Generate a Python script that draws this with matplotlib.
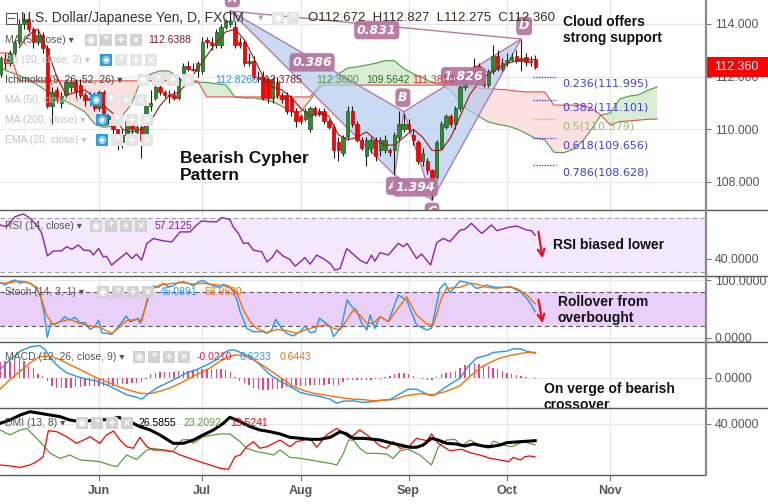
import numpy as np
import matplotlib
matplotlib.use("Agg")
import matplotlib.pyplot as plt
import matplotlib.transforms as mtrans
from matplotlib.patches import Rectangle, Polygon

plt.rcParams['font.family'] = ['Liberation Sans', 'DejaVu Sans']

# ---------------- data ----------------
month_labels = ['Jun', 'Jul', 'Aug', 'Sep', 'Oct', 'Nov']
month_idx = [23, 45, 66, 89, 110, 132]

bar_idx = list(range(2, 117))
opens = [112.1, 112.7, 112.5, 112.9, 113.3, 114.0, 114.2, 113.8, 113.3, 113.6,
         113.1, 110.9, 111.5, 111.0, 111.3, 111.6, 111.8, 111.7, 111.3, 111.1,
         111.2, 110.8, 111.4, 110.4, 110.5, 110.0, 109.5, 109.8, 110.3, 109.9,
         110.1, 109.6, 110.9, 111.2, 111.6, 111.4, 111.3, 111.3, 111.2, 111.9,
         112.4, 112.3, 112.2, 112.2, 113.4, 113.3, 113.2, 113.2, 113.9, 114.0,
         113.9, 113.3, 113.3, 112.5, 112.6, 112.0, 112.0, 111.9, 111.2, 111.8,
         111.3, 111.3, 111.2, 110.7, 110.5, 110.4, 110.0, 110.8, 110.7, 110.7,
         110.3, 110.1, 109.5, 109.1, 109.7, 110.7, 110.2, 109.6, 109.0, 109.3,
         109.6, 109.2, 109.2, 109.2, 109.2, 109.7, 110.0, 110.2, 109.8, 109.5,
         108.8, 108.8, 108.45, 108.2, 109.3, 110.1, 110.5, 110.2, 110.8, 111.6,
         111.95, 112.4, 112.4, 112.2, 111.7, 112.2, 112.8, 112.3, 112.55, 112.65,
         112.8, 112.6, 112.75, 112.55, 112.672]
highs = [112.8, 112.9, 113.0, 113.4, 114.2, 114.4, 114.3, 113.9, 113.8, 113.7,
         113.2, 111.6, 111.6, 111.4, 111.9, 112.0, 111.9, 111.9, 111.4, 111.4,
         111.4, 111.5, 111.5, 110.6, 110.6, 110.0, 110.0, 110.4, 110.4, 110.2,
         110.3, 111.0, 111.5, 111.7, 111.8, 111.5, 111.5, 111.5, 112.0, 112.5,
         112.6, 112.5, 112.6, 113.5, 113.5, 113.5, 113.8, 114.0, 114.2, 114.5,
         114.1, 113.5, 113.4, 112.9, 112.8, 112.2, 112.2, 112.0, 112.0, 112.0,
         111.4, 111.4, 111.3, 110.8, 110.6, 110.8, 110.9, 110.9, 110.8, 110.8,
         110.4, 110.2, 109.7, 109.8, 110.9, 110.9, 110.3, 109.7, 109.7, 109.7,
         109.7, 109.7, 109.8, 109.3, 109.9, 110.7, 110.6, 110.4, 110.0, 109.6,
         109.3, 108.9, 108.5, 109.6, 110.3, 110.6, 110.6, 110.9, 111.7, 112.1,
         112.3, 112.7, 112.5, 112.3, 112.3, 113.2, 113.0, 112.7, 112.9, 112.9,
         113.0, 113.4, 112.9, 112.8, 112.827]
lows = [112.0, 112.3, 112.4, 112.8, 113.2, 113.8, 113.7, 113.1, 113.2, 112.9,
        110.8, 110.2, 111.0, 110.8, 111.2, 111.4, 111.2, 111.2, 110.9, 110.9,
        110.7, 110.7, 110.3, 110.2, 109.8, 109.2, 109.3, 109.7, 109.8, 109.6,
        108.9, 109.5, 110.7, 111.1, 111.3, 111.2, 111.0, 111.1, 111.1, 111.8,
        112.2, 112.2, 112.0, 112.1, 113.1, 113.0, 113.1, 113.1, 113.8, 113.9,
        113.1, 113.1, 112.4, 112.4, 111.9, 111.8, 111.1, 111.0, 111.0, 111.2,
        111.0, 110.6, 110.5, 110.1, 110.2, 110.3, 109.9, 110.5, 110.5, 110.2,
        110.0, 108.9, 108.8, 109.0, 109.6, 110.1, 109.5, 109.2, 108.6, 109.1,
        108.8, 109.0, 109.1, 109.0, 108.3, 109.6, 109.9, 109.9, 109.4, 108.7,
        108.6, 108.3, 107.3, 108.1, 109.2, 110.0, 110.1, 110.0, 110.7, 111.5,
        111.9, 111.9, 112.1, 111.6, 111.6, 112.1, 112.2, 112.2, 112.4, 112.6,
        112.5, 112.2, 112.4, 112.4, 112.275]
closes = [112.7, 112.5, 112.9, 113.3, 114.0, 114.2, 113.8, 113.3, 113.6, 113.1,
          110.9, 111.4, 111.1, 111.25, 111.8, 111.8, 111.4, 111.3, 111.1, 111.2,
          110.8, 111.4, 110.4, 110.5, 110.0, 109.4, 109.8, 110.3, 110.0, 110.1,
          109.6, 110.9, 111.0, 111.6, 111.4, 111.3, 111.25, 111.2, 111.9, 112.4,
          112.3, 112.25, 112.5, 113.3, 113.3, 113.2, 113.7, 113.9, 114.1, 114.1,
          113.2, 113.2, 112.5, 112.6, 112.0, 111.9, 111.2, 111.2, 111.9, 111.3,
          111.15, 110.7, 110.7, 110.3, 110.3, 110.7, 110.8, 110.6, 110.6, 110.3,
          110.1, 109.2, 109.2, 109.7, 110.7, 110.2, 109.6, 109.3, 109.6, 109.6,
          109.0, 109.6, 109.6, 109.15, 109.8, 110.2, 110.2, 110.0, 109.6, 108.8,
          109.1, 108.45, 107.9, 109.5, 110.2, 110.5, 110.2, 110.8, 111.6, 112.0,
          112.25, 112.0, 112.15, 111.7, 112.2, 112.8, 112.3, 112.5, 112.65, 112.75,
          112.6, 112.7, 112.55, 112.6, 112.36]

ma5_x = list(range(6, 117, 2))
ma5_v = [113.1, 113.6, 113.8, 113.0, 112.0, 111.3, 111.4, 111.5, 111.2, 110.9,
         110.6, 110.0, 109.9, 110.0, 110.3, 110.9, 111.3, 111.4, 111.8, 112.3,
         112.8, 113.3, 113.7, 113.8, 113.4, 112.7, 112.0, 111.6, 111.5, 111.2,
         110.8, 110.5, 110.6, 110.5, 109.8, 109.6, 109.7, 109.9, 109.6, 109.4,
         109.4, 109.7, 110.0, 109.7, 109.2, 109.2, 109.7, 110.5, 111.3, 111.8,
         112.1, 112.3, 112.5, 112.6, 112.65, 112.64]

cloud_x = list(range(2, 143, 2))
span_a = [112.33, 112.17, 112.05, 111.89, 111.67, 111.44, 111.24, 111.06, 110.87, 110.66,
          110.22, 110.07, 110.13, 110.52, 110.98, 111.90, 112.10, 112.22, 112.21, 111.93,
          111.76, 111.79, 111.78, 111.73, 111.69, 111.22, 111.19, 111.19, 111.13, 111.05,
          110.88, 110.65, 110.66, 111.11, 111.58, 111.87, 112.10, 112.33, 112.37, 112.44,
          112.51, 112.61, 112.60, 112.30, 112.11, 111.96, 111.78, 111.71, 111.47, 111.00,
          110.70, 110.49, 110.28, 110.19, 110.13, 110.02, 109.85, 109.66, 109.61, 109.13,
          109.11, 109.23, 109.53, 110.00, 110.54, 110.62, 111.15, 111.26, 111.31, 111.48,
          111.61]
span_b = [112.90, 112.90, 111.84, 111.84, 111.84, 111.84, 111.84, 111.84, 111.84, 111.84,
          111.84, 111.84, 111.84, 111.84, 111.84, 111.84, 111.84, 111.84, 111.84, 111.84,
          111.84, 111.84, 111.23, 111.23, 111.23, 111.23, 111.23, 111.23, 111.23, 111.23,
          111.23, 111.23, 111.23, 111.23, 111.68, 111.68, 111.68, 111.68, 111.68, 111.68,
          111.68, 111.68, 111.68, 111.68, 111.68, 111.68, 111.68, 111.68, 111.67, 111.63,
          111.60, 111.57, 111.55, 111.52, 111.50, 111.45, 111.42, 111.42, 111.42, 110.92,
          110.92, 110.92, 110.92, 110.80, 110.54, 110.16, 110.29, 110.32, 110.35, 110.38,
          110.39]

# Cypher pattern points X, A, B, C, D
pat_names = ['X', 'A', 'B', 'C', 'D']
pat_x = [51, 86, 88, 94, 113]
pat_p = [114.49, 108.27, 110.67, 107.32, 113.43]
pat_ratios = {'XB': '0.386', 'AC': '1.394', 'BD': '1.826', 'XD': '0.831'}

fib_ratio = ['0.236', '0.382', '0.5', '0.618', '0.786']
fib_price = [111.995, 111.101, 110.379, 109.656, 108.628]

rsi_x = [1.9, 3.3, 5.1, 6.9, 8.3, 9.7, 10.8, 12.0, 13.3, 15.0, 16.1, 17.2, 18.6, 19.7, 21.1, 21.8, 22.9, 23.9, 24.6, 25.7,
         27.1, 28.9, 30.0, 31.0, 32.1, 33.2, 34.6, 36.7, 38.5, 40.3, 42.4, 43.8, 44.9, 46.7, 48.1, 49.2, 50.9, 51.6, 52.7, 53.8,
         54.8, 55.9, 57.7, 58.8, 59.9, 60.9, 62.3, 63.7, 64.8, 65.9, 66.9, 68.0, 69.4, 70.8, 72.3, 73.3, 74.4, 75.8, 77.2, 78.6,
         80.1, 81.1, 81.8, 82.9, 84.7, 86.8, 87.9, 88.7, 90.7, 91.8, 93.7, 95.0, 96.4, 97.8, 100.0, 101.0, 102.4, 104.6, 106.7, 107.8,
         110.3, 112.0, 114.2, 115.2, 116.0]
rsi_v = [64.8, 63.6, 71.0, 73.0, 69.8, 64.8, 58.6, 41.9, 45.6, 45.6, 48.8, 46.8, 50.0, 46.3, 45.8, 42.6, 47.4, 41.2, 41.7, 35.1,
         39.3, 44.2, 40.0, 43.2, 38.8, 51.1, 54.8, 53.1, 52.3, 59.7, 59.7, 64.7, 67.9, 67.2, 67.2, 70.4, 68.9, 63.5, 58.6, 51.1,
         51.6, 46.2, 45.0, 37.5, 40.7, 46.2, 41.7, 39.3, 34.3, 37.5, 40.7, 35.8, 42.5, 40.0, 36.3, 31.4, 32.6, 47.4, 43.2, 38.8,
         36.3, 42.5, 38.0, 44.3, 42.6, 51.2, 48.8, 51.2, 40.1, 43.3, 35.2, 51.7, 54.9, 52.5, 61.1, 61.6, 66.0, 58.6, 64.8, 60.6,
         63.1, 64.1, 61.1, 60.6, 57.2]

stk_x = [1.9, 3.0, 4.0, 5.1, 6.2, 7.2, 8.3, 9.4, 10.5, 11.3, 12.0, 12.7, 13.6, 14.7, 15.7, 16.8, 17.9, 18.9, 20.0, 21.1,
         22.1, 22.9, 23.6, 24.6, 25.7, 26.8, 27.8, 28.8, 29.6, 30.3, 31.4, 31.7, 32.5, 33.5, 34.6, 35.7, 36.7, 37.8, 38.8, 39.9,
         41.0, 42.0, 43.1, 44.2, 45.2, 46.3, 47.4, 48.4, 49.5, 50.6, 51.6, 52.4, 53.1, 54.5, 55.9, 58.0, 58.8, 59.8, 60.7, 61.9,
         63.0, 64.4, 65.9, 66.9, 68.0, 69.1, 70.0, 71.2, 72.3, 73.0, 73.7, 74.7, 75.9, 76.9, 77.9, 79.0, 80.1, 80.8, 81.8, 82.9,
         84.7, 86.8, 88.6, 90.7, 92.9, 93.9, 95.7, 96.8, 97.8, 100.0, 102.1, 103.5, 104.6, 105.6, 107.4, 109.2, 111.0, 112.8, 114.2, 115.2,
         116.0]
stk_v = [95.4, 91.4, 97.1, 100, 94.3, 97.1, 94.3, 87.4, 74.1, 42.5, 1.1, 25.3, 24.1, 28.2, 36.8, 31.0, 35.6, 26.4, 26.4, 14.9,
         19.5, 31.0, 9.2, 8.0, 6.3, 16.7, 26.4, 37.9, 28.2, 29.9, 33.9, 25.3, 42.5, 68.4, 89.7, 87.4, 94.3, 88.5, 89.7, 96.0,
         97.1, 94.3, 89.7, 97.1, 98.9, 94.3, 89.7, 87.4, 92.5, 89.7, 79.9, 65.5, 45.4, 16.7, 10.9, 10.9, 8.0, 13.8, 32.2, 16.7,
         8.0, 3.4, 10.9, 20.7, 9.2, 10.9, 33.9, 26.4, 19.5, 2.3, 9.2, 20.7, 65.5, 54.0, 48.3, 25.3, 13.8, 39.7, 16.7, 36.8,
         28.2, 74.1, 65.5, 22.4, 13.8, 16.7, 85.6, 94.3, 78.2, 98.3, 94.3, 85.6, 87.4, 91.4, 87.4, 87.4, 87.4, 79.9, 68.4, 56.9,
         45.1]
std_x = [1.9, 4.0, 6.2, 8.3, 9.7, 10.8, 11.8, 13.3, 14.7, 16.8, 18.9, 21.1, 23.2, 25.7, 27.5, 28.9, 31.0, 32.1, 33.2, 34.6,
         36.0, 38.8, 41.0, 43.1, 45.2, 48.1, 50.9, 52.4, 53.8, 55.2, 56.6, 58.8, 60.9, 63.0, 65.1, 67.3, 69.4, 71.5, 73.0, 74.4,
         75.8, 77.2, 78.6, 80.1, 81.5, 82.9, 84.7, 86.5, 88.6, 90.7, 92.9, 94.3, 96.0, 97.1, 100.0, 102.1, 103.5, 105.6, 107.8, 110.6,
         112.4, 114.2, 116.0]
std_v = [94.3, 95.4, 98.3, 94.3, 87.4, 65.5, 39.7, 22.4, 28.2, 32.2, 25.3, 20.7, 18.4, 8.0, 19.5, 29.9, 32.2, 28.2, 65.5, 85.6,
         91.4, 94.3, 95.4, 93.1, 94.3, 91.4, 88.5, 77.0, 48.3, 28.2, 16.7, 9.2, 14.9, 12.6, 8.0, 14.9, 19.5, 22.4, 16.7, 13.8,
         31.0, 48.3, 39.7, 25.3, 25.3, 36.8, 28.2, 48.3, 71.3, 39.7, 24.1, 22.4, 68.4, 85.6, 87.4, 94.3, 93.1, 87.4, 85.6, 88.5,
         83.9, 74.1, 59.0]

macd_x = [1.9, 4.0, 6.2, 8.3, 10.4, 11.5, 12.6, 14.3, 16.1, 18.2, 20.4, 22.5, 24.6, 26.8, 28.9, 31.0, 32.1, 33.2, 35.3, 37.4,
          39.6, 41.7, 43.8, 46.0, 48.1, 50.2, 51.6, 53.1, 55.2, 57.3, 59.5, 61.6, 63.7, 65.9, 68.0, 70.1, 72.3, 73.7, 75.1, 77.2,
          79.4, 81.5, 82.9, 85.0, 88.9, 90.7, 93.6, 94.6, 97.1, 100.0, 101.7, 103.5, 105.6, 107.1, 109.9, 111.3, 112.8, 114.2, 116.0]
macd_v = [0.21, 0.46, 0.67, 0.78, 0.81, 0.71, 0.50, 0.29, 0.13, 0.04, -0.03, -0.08, -0.17, -0.29, -0.42, -0.48, -0.53, -0.42, -0.25, -0.13,
          0.0, 0.13, 0.21, 0.33, 0.46, 0.67, 0.71, 0.64, 0.54, 0.33, 0.08, -0.08, -0.21, -0.36, -0.42, -0.46, -0.53, -0.63, -0.58, -0.57,
          -0.61, -0.59, -0.56, -0.54, -0.28, -0.28, -0.44, -0.42, -0.21, 0.0, 0.29, 0.50, 0.56, 0.64, 0.67, 0.73, 0.73, 0.67, 0.62]
sig_x = [1.9, 4.0, 6.2, 8.3, 10.4, 12.6, 14.7, 16.8, 19.0, 21.1, 23.2, 25.3, 27.5, 29.6, 31.7, 33.9, 36.0, 38.1, 40.3, 42.4,
         44.5, 46.7, 48.8, 50.9, 52.4, 53.8, 55.9, 58.0, 60.2, 62.3, 64.4, 66.6, 68.7, 70.8, 73.0, 75.1, 77.2, 79.4, 81.5, 82.9,
         85.7, 88.6, 91.4, 94.3, 97.1, 100.0, 102.1, 104.2, 106.4, 108.5, 110.6, 112.8, 114.2, 116.0]
sig_v = [-0.28, -0.04, 0.17, 0.38, 0.54, 0.54, 0.46, 0.33, 0.21, 0.08, -0.03, -0.13, -0.23, -0.31, -0.38, -0.39, -0.33, -0.25, -0.13, 0.0,
         0.13, 0.25, 0.42, 0.54, 0.58, 0.56, 0.46, 0.31, 0.13, -0.04, -0.21, -0.31, -0.38, -0.42, -0.46, -0.50, -0.53, -0.54, -0.57, -0.56,
         -0.54, -0.44, -0.39, -0.42, -0.33, -0.19, 0.04, 0.25, 0.39, 0.50, 0.56, 0.61, 0.64, 0.64]
hist_v = [0.40, 0.42, 0.42, 0.45, 0.46, 0.42, 0.30, 0.25, 0.10, 0.05,
          -0.08, -0.20, -0.25, -0.26, -0.25, -0.24, -0.22, -0.22, -0.21, -0.21,
          -0.20, -0.20, -0.20, -0.20, -0.19, -0.18, -0.16, -0.15, -0.13, -0.12,
          -0.10, -0.02, 0.10, 0.13, 0.14, 0.14, 0.16, 0.16, 0.17, 0.17,
          0.18, 0.20, 0.22, 0.22, 0.22, 0.23, 0.22, 0.22, 0.20, 0.15,
          0.02, -0.08, -0.13, -0.18, -0.24, -0.28, -0.30, -0.30, -0.28, -0.27,
          -0.24, -0.22, -0.22, -0.20, -0.20, -0.20, -0.18, -0.18, -0.17, -0.17,
          -0.16, -0.17, -0.17, -0.10, -0.05, -0.04, -0.04, -0.05, -0.05, -0.04,
          -0.03, -0.02, 0.02, 0.06, 0.10, 0.12, 0.12, 0.10, 0.06, 0.01,
          -0.02, -0.05, -0.04, 0.02, 0.10, 0.13, 0.15, 0.17, 0.25, 0.33,
          0.36, 0.38, 0.36, 0.33, 0.30, 0.26, 0.22, 0.17, 0.13, 0.10,
          0.08, 0.05, 0.03, 0.01, -0.02]

adx_x = [1.9, 4.0, 6.2, 8.3, 10.4, 12.6, 14.7, 16.8, 19.0, 21.1, 23.2, 25.3, 27.1, 28.9, 30.3, 31.7, 33.9, 36.0, 38.8, 41.0,
         43.1, 45.2, 47.4, 49.5, 50.9, 53.1, 55.2, 57.3, 59.5, 61.6, 63.7, 65.9, 68.0, 70.1, 72.3, 74.4, 75.8, 77.2, 79.4, 81.5,
         82.9, 85.0, 87.2, 89.3, 90.7, 92.1, 93.9, 95.3, 97.1, 99.2, 101.0, 102.8, 104.9, 106.4, 108.5, 109.9, 112.8, 116.0]
adx_v = [40.5, 43.2, 47.2, 49.9, 48.6, 47.2, 45.9, 43.2, 41.9, 42.7, 43.7, 43.2, 45.4, 43.2, 40.5, 37.9, 35.2, 31.2, 24.5, 24.5,
         27.1, 31.2, 35.2, 40.5, 45.4, 41.9, 37.9, 35.2, 33.8, 32.0, 29.3, 28.5, 27.7, 27.7, 29.3, 33.8, 32.0, 28.5, 28.5, 27.7,
         27.1, 25.0, 23.1, 21.3, 21.3, 23.1, 28.5, 27.1, 24.5, 23.9, 22.3, 23.9, 22.3, 21.8, 23.1, 25.0, 25.8, 26.6]
pdi_x = [1.9, 4.0, 6.2, 7.6, 9.0, 11.1, 12.6, 14.7, 16.8, 19.0, 21.1, 23.2, 25.3, 26.8, 28.9, 31.0, 33.2, 34.6, 36.7, 38.8,
         40.6, 42.0, 43.1, 45.2, 47.4, 48.8, 50.9, 53.1, 54.5, 56.6, 58.8, 60.2, 61.6, 63.7, 65.9, 68.0, 70.1, 72.3, 73.7, 75.1,
         76.2, 77.2, 78.6, 80.1, 82.2, 84.3, 85.7, 87.2, 88.9, 91.4, 93.9, 95.3, 97.1, 98.9, 100.3, 102.1, 104.2, 106.0, 107.1, 109.2,
         111.0, 113.5, 116.0]
pdi_v = [35.2, 31.2, 35.2, 36.5, 31.2, 23.1, 16.4, 12.4, 15.1, 11.1, 10.5, 9.7, 7.1, 5.7, 15.1, 11.6, 19.1, 20.5, 19.1, 17.8,
         27.1, 27.7, 24.5, 29.8, 31.2, 32.0, 32.0, 25.8, 20.5, 17.8, 16.4, 15.1, 19.1, 13.2, 12.4, 11.1, 9.7, 8.4, 7.1, 16.4,
         27.1, 27.1, 20.5, 16.4, 16.4, 15.9, 12.4, 18.6, 19.7, 15.1, 7.1, 21.3, 27.1, 27.7, 22.3, 27.1, 23.1, 20.5, 26.3, 23.1,
         21.8, 25.8, 23.2]
mdi_x = [1.9, 4.0, 6.2, 8.3, 9.7, 11.1, 12.2, 14.0, 16.1, 18.2, 19.7, 21.1, 23.2, 24.6, 26.1, 27.5, 28.9, 30.3, 31.7, 33.2,
         34.6, 36.7, 38.8, 40.3, 42.4, 44.5, 46.7, 48.8, 50.6, 52.0, 53.1, 54.5, 55.9, 57.3, 58.8, 60.2, 61.6, 63.7, 65.1, 66.6,
         68.0, 69.4, 71.5, 73.7, 75.1, 76.5, 78.6, 80.1, 81.5, 82.9, 84.3, 85.7, 87.2, 88.9, 90.7, 92.9, 93.9, 95.3, 97.8, 100.3,
         102.1, 104.2, 106.4, 108.5, 110.3, 111.3, 112.8, 113.8, 114.9, 116.0]
mdi_v = [7.1, 6.3, 5.2, 7.1, 9.7, 13.8, 34.6, 33.8, 29.8, 24.5, 27.1, 29.8, 24.5, 31.2, 34.4, 27.1, 21.8, 20.5, 29.3, 21.8,
         19.1, 19.1, 17.8, 15.1, 12.4, 9.7, 7.1, 4.4, 3.6, 13.8, 15.1, 21.8, 25.8, 20.5, 21.8, 24.5, 27.1, 21.8, 25.8, 27.1,
         28.5, 21.3, 31.2, 36.5, 32.5, 28.5, 35.2, 31.2, 27.1, 22.3, 20.5, 25.8, 20.5, 21.3, 28.5, 26.6, 32.0, 24.5, 18.6, 19.7,
         17.0, 15.1, 12.4, 11.1, 9.7, 13.2, 11.1, 13.8, 14.3, 13.5]

# ---------------- layout ----------------
W, H = 768, 504
fig = plt.figure(figsize=(7.68, 5.04), dpi=100)
XR = 705


def axes_px(top, bottom):
    return fig.add_axes([0, 1 - bottom / H, XR / W, (bottom - top) / H])


ax_main = axes_px(0, 210)
ax_rsi = axes_px(210, 276)
ax_sto = axes_px(276, 342)
ax_macd = axes_px(342, 408)
ax_dmi = axes_px(408, 475)

GRID = '#e6e6e6'


def style(ax, ylim, yticks, ylabels):
    ax.set_xlim(1.892, 152.2)
    ax.set_ylim(*ylim)
    for s in ax.spines.values():
        s.set_visible(False)
    ax.yaxis.tick_right()
    ax.set_yticks(yticks)
    ax.set_yticklabels(ylabels)
    ax.tick_params(axis='y', length=4, width=0.8, color='#777777', labelcolor='#555555',
                   labelsize=8.8, pad=3)
    ax.set_xticks(month_idx)
    ax.tick_params(axis='x', length=0, labelbottom=False)
    for m in month_idx:
        ax.axvline(m, color=GRID, lw=0.8, zorder=0)
    for t in yticks:
        ax.axhline(t, color=GRID, lw=0.8, zorder=0)


style(ax_main, (106.936, 114.911), [108, 110, 112, 114], ['108.000', '110.000', '112.000', '114.000'])
style(ax_rsi, (27.04, 75.93), [40], ['40.0000'])
style(ax_sto, (-6.9, 106.9), [0, 100], ['0.0000', '100.0000'])
style(ax_macd, (-0.75, 0.9), [0], ['0.0000'])
style(ax_dmi, (-0.96, 52.85), [40], ['40.0000'])
ax_dmi.set_xticklabels(month_labels)
ax_dmi.tick_params(axis='x', length=4, width=0.8, color='#777777', labelbottom=True,
                   labelsize=9, labelcolor='#555555', pad=3)
for lb in ax_dmi.get_xticklabels():
    lb.set_fontweight('bold')

# ---------------- main panel ----------------
sa = np.array(span_a)
sb = np.array(span_b)
ax_main.fill_between(cloud_x, sa, sb, where=sa >= sb, interpolate=True, color='#d9edd5', lw=0, zorder=0.6)
ax_main.fill_between(cloud_x, sa, sb, where=sa < sb, interpolate=True, color='#fde0e0', lw=0, zorder=0.6)
ax_main.plot(cloud_x, span_a, color='#4f9a43', lw=0.8, zorder=1)
ax_main.plot(cloud_x, span_b, color='#ef4a4a', lw=0.8, zorder=1)

# pattern
PC = '#b57aa3'
tri1 = Polygon(list(zip(pat_x[0:3], pat_p[0:3])), closed=True, fc='#b3cbef', alpha=0.7, ec='none', zorder=2)
tri2 = Polygon(list(zip(pat_x[2:5], pat_p[2:5])), closed=True, fc='#b3cbef', alpha=0.7, ec='none', zorder=2)
ax_main.add_patch(tri1)
ax_main.add_patch(tri2)
for a, b in [(0, 1), (1, 2), (2, 0), (2, 3), (3, 4), (4, 2), (1, 3), (0, 4)]:
    ax_main.plot([pat_x[a], pat_x[b]], [pat_p[a], pat_p[b]], color=PC, lw=1.0, zorder=2.2)

# candles
o = np.array(opens); c = np.array(closes); hi = np.array(highs); lo = np.array(lows)
up = c >= o
ax_main.vlines(bar_idx, lo, hi, color='#1a1a1a', lw=0.8, zorder=3)
ax_main.bar(np.array(bar_idx)[up], np.maximum(np.abs(c - o), 0.03)[up], bottom=np.minimum(o, c)[up],
            width=0.72, color='#2f8a2f', edgecolor='#1d5a1d', lw=0.5, zorder=4)
ax_main.bar(np.array(bar_idx)[~up], np.maximum(np.abs(c - o), 0.03)[~up], bottom=np.minimum(o, c)[~up],
            width=0.72, color='#ff0000', edgecolor='#d00000', lw=0.5, zorder=4)

ax_main.plot(ma5_x, ma5_v, color='#a31515', lw=0.8, zorder=5)

# pattern labels
lab_kw = dict(textcoords='offset pixels', ha='center', va='center', fontsize=9, fontweight='bold',
              fontstyle='italic', color='white', zorder=7, clip_on=True, annotation_clip=False,
              family='DejaVu Sans',
              bbox=dict(boxstyle='round,pad=0.22,rounding_size=0.35', fc='#b5739d', ec='none', alpha=0.92))
pt_off = {'X': (2, 13), 'A': (-1, -11), 'B': (-1, 14), 'C': (0, -12), 'D': (3, 13)}
for n, px, pp in zip(pat_names, pat_x, pat_p):
    ax_main.annotate(n, (px, pp), xytext=pt_off[n], **lab_kw)
rat_off = {'XB': (-5, -1), 'AC': (2, 0), 'BD': (1, -1), 'XD': (1, -5)}
for key, s in pat_ratios.items():
    i1, i2 = pat_names.index(key[0]), pat_names.index(key[1])
    mx = (pat_x[i1] + pat_x[i2]) / 2
    my = (pat_p[i1] + pat_p[i2]) / 2
    ax_main.annotate(s, (mx, my), xytext=rat_off[key], **lab_kw)

# fib levels
for r, p in zip(fib_ratio, fib_price):
    col = '#8fbf6f' if r == '0.5' else '#3d3df5'
    ax_main.hlines(p, 115.5, 120.4, colors=col, linestyles=(0, (1, 1)), lw=1.0, zorder=5)
    ax_main.annotate('%s(%.3f)' % (r, p), (121.7, p), xytext=(0, -7), textcoords='offset pixels',
                     ha='left', va='center', fontsize=8, color=col, family='DejaVu Sans', zorder=6)

# last price box on right axis
btr = mtrans.blended_transform_factory(ax_main.transAxes, ax_main.transData)
ax_main.add_patch(Rectangle((1.002, closes[-1] - 0.38), 0.09, 0.76, transform=btr, fc='#ff0000',
                            ec='none', clip_on=False, zorder=20))
ax_main.text(1.045, closes[-1], '%.3f' % closes[-1], transform=btr, ha='center', va='center',
             color='white', fontsize=9, clip_on=False, zorder=21)

# ---------------- RSI ----------------
ax_rsi.axhspan(30, 70, color='#f4e8fc', lw=0, zorder=0.1)
for lv in (30, 70):
    ax_rsi.axhline(lv, color='#a0a0a0', lw=0.8, ls=(0, (4, 3)), zorder=1)
ax_rsi.plot(rsi_x, rsi_v, color='#8e24aa', lw=1.0, zorder=3)

# ---------------- Stoch ----------------
ax_sto.axhspan(20, 80, color='#e9d0f9', lw=0, zorder=0.1)
for lv in (20, 80):
    ax_sto.axhline(lv, color='#555555', lw=0.8, ls=(0, (4, 3)), zorder=1)
ax_sto.plot(stk_x, stk_v, color='#2196f3', lw=1.0, zorder=3)
ax_sto.plot(std_x, std_v, color='#ff6d00', lw=1.0, zorder=3)

# ---------------- MACD ----------------
ax_macd.bar(bar_idx, hist_v, width=0.3, color='#f2417f', zorder=2)
ax_macd.plot(macd_x, macd_v, color='#2196f3', lw=1.0, zorder=3)
ax_macd.plot(sig_x, sig_v, color='#ff6d00', lw=1.0, zorder=3)

# ---------------- DMI ----------------
ax_dmi.plot(pdi_x, pdi_v, color='#5a9e3c', lw=0.9, zorder=3)
ax_dmi.plot(mdi_x, mdi_v, color='#ff0000', lw=0.9, zorder=3)
ax_dmi.plot(adx_x, adx_v, color='#000000', lw=2.2, zorder=4)

# ---------------- overlay (legends, notes, frame) ----------------
ov = fig.add_axes([0, 0, 1, 1], zorder=10)
ov.set_xlim(0, W)
ov.set_ylim(H, 0)
ov.axis('off')
ov.patch.set_visible(False)

for yy in (210, 276, 342, 408):
    ov.plot([0, W], [yy, yy], color='#5a5a5a', lw=1.0)
ov.plot([0, XR], [475, 475], color='#5a5a5a', lw=1.0)
ov.plot([XR + 0.5, XR + 0.5], [0, 475], color='#8a8a8a', lw=1.6)


def icons(x0, y, first_blue=False, faded=False, n=4):
    glyphs = ['\u25c9', '*', '+', '\u00d7']
    for k, g in enumerate(glyphs[:n]):
        fc = '#2e9fdc' if (k == 0 and first_blue) else ('#e4e4e4' if faded else '#d2d2d2')
        ov.add_patch(Rectangle((x0 + 15 * k, y - 6), 12, 12, fc=fc, ec='none'))
        ov.text(x0 + 15 * k + 6, y, g, ha='center', va='center', color='white', fontsize=7,
                fontweight='bold', family='DejaVu Sans')


def txt(x, y, s, color='#555555', size=7.5, **kw):
    ov.text(x, y, s, color=color, fontsize=size, ha='left', va='center', **kw)


# title row
ov.add_patch(Rectangle((5.5, 12.5), 11, 11, fc='none', ec='#555555', lw=0.8))
ov.plot([8, 14], [18, 18], color='#555555', lw=0.8)
txt(21, 18, 'U.S. Dollar/Japanese Yen, D, FXCM', color='#333333', size=10)
txt(258, 18, '\u25be', color='#aaaaaa', size=8)
icons(272, 18, faded=True, n=2)
txt(308, 18, 'O%.3f  H%.3f  L%.3f  C%.3f' % (opens[-1], highs[-1], lows[-1], closes[-1]),
    color='#3d2b1f', size=9.5)

FADE = '#c4c4c4'
txt(5, 40, 'MA (5, close) \u25be')
icons(85, 40)
txt(148, 40, '%.4f' % 112.6388, color='#8b1a1a')
txt(5, 60, 'BB (20, close, 2) \u25be', color=FADE)
icons(100, 60, first_blue=True, faded=True)
txt(5, 80, 'Ichimoku (9, 26, 52, 26) \u25be', color='#444444')
icons(137, 80, faded=True)
ichi_vals = ['112.8260', '112.3785', '112.3600', '109.5642', '111.3810']
ichi_cols = ['#2196f3', '#8b1a1a', '#4f9a43', '#2e6b2e', '#ef2a2a']
ichi_xs = [215, 259, 316, 366, 412]
for v, cc, xx in zip(ichi_vals, ichi_cols, ichi_xs):
    txt(xx, 80, v, color=cc)
txt(5, 100, 'MA (50, close) \u25be', color=FADE)
icons(90, 100, first_blue=True, faded=True)
txt(5, 120, 'MA (200, close) \u25be', color=FADE)
icons(96, 120, first_blue=True, faded=True)
txt(5, 140, 'EMA (20, close) \u25be', color=FADE)
icons(96, 140, first_blue=True, faded=True)

txt(5, 226, 'RSI (14, close) \u25be')
icons(90, 226)
txt(155, 226, '57.2125', color='#7b1fa2')
txt(5, 292, 'Stoch (14, 3, 1) \u25be')
icons(97, 292)
txt(160, 292, '45.0891', color='#2196f3')
txt(205, 292, '58.9630', color='#ff6d00')
txt(5, 357, 'MACD (12, 26, close, 9) \u25be')
icons(133, 357)
txt(197, 357, '-0.0210', color='#ff1744')
txt(240, 357, '0.6233', color='#2196f3')
txt(280, 357, '0.6443', color='#ff6d00')
txt(5, 423, 'DMI (13, 8) \u25be')
icons(76, 423)
txt(138, 423, '26.5855', color='#000000')
txt(183, 423, '23.2092', color='#5a9e3c')
txt(230, 423, '13.5241', color='#ff0000')

# notes
note_kw = dict(color='#111111', fontweight='bold', ha='left', va='top', linespacing=1.15)
ov.text(563, 15, 'Cloud offers\nstrong support', fontsize=10, **note_kw)
ov.text(180, 151, 'Bearish Cypher\nPattern', fontsize=12.5, **note_kw)
ov.text(553, 245, 'RSI biased lower', fontsize=10, color='#111111', fontweight='bold', ha='left', va='center')
ov.text(558, 295, 'Rollover from\noverbought', fontsize=10, **note_kw)
# note clipped by the MACD pane (its second line is cut by the pane border)
ax_macd.text(544, 382, 'On verge of bearish\ncrossover', fontsize=10, transform=ov.transData,
             clip_on=True, zorder=8, **note_kw)

arrow_kw = dict(arrowstyle='->', color='#e81123', lw=1.6, mutation_scale=12)
ov.annotate('', xy=(543, 261), xytext=(538, 229), arrowprops=arrow_kw)
ov.annotate('', xy=(543, 326), xytext=(538, 297), arrowprops=arrow_kw)

fig.savefig('out.png', dpi=100, facecolor='white')
